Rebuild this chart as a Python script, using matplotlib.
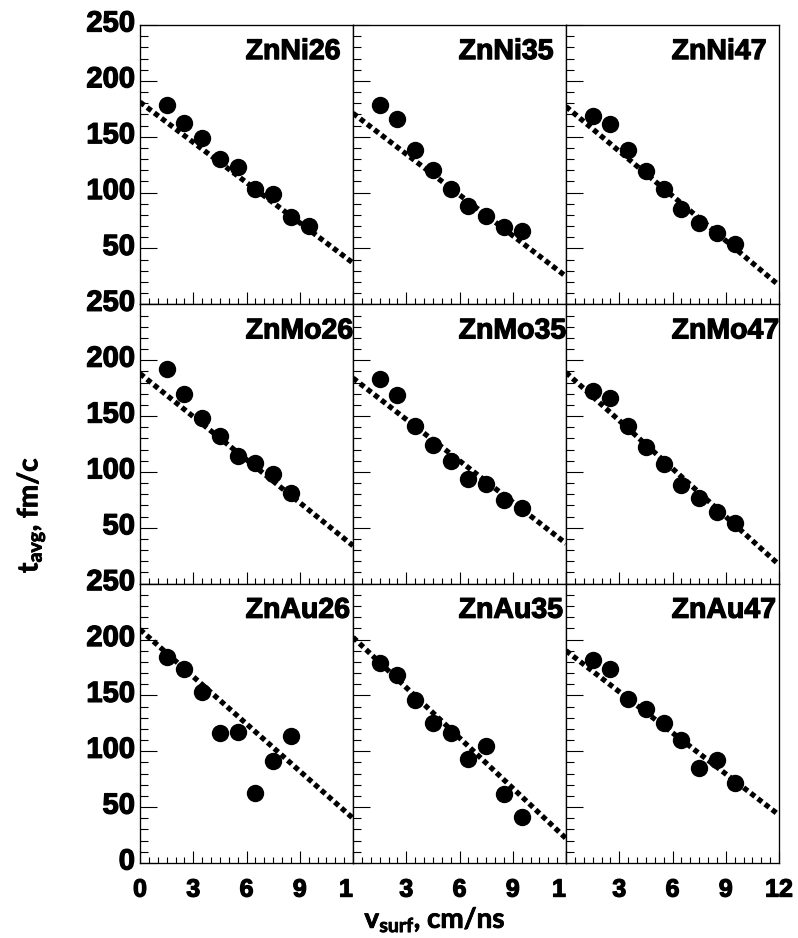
import matplotlib
matplotlib.use('Agg')
import matplotlib.pyplot as plt
import matplotlib.patheffects as pe
from matplotlib.ticker import MultipleLocator
from matplotlib.transforms import ScaledTranslation

# ---------------- data ----------------
v_surf = [1.5, 2.5, 3.5, 4.5, 5.5, 6.5, 7.5, 8.5, 9.5]

panel_names = [["ZnNi26", "ZnNi35", "ZnNi47"],
               ["ZnMo26", "ZnMo35", "ZnMo47"],
               ["ZnAu26", "ZnAu35", "ZnAu47"]]

t_ZnNi26 = [178, 162, 149, 130, 123, 103, 99, 78, 70]
t_ZnNi35 = [178, 166, 138, 120, 103, 88, 79, 69, 66]
t_ZnNi47 = [169, 161, 138, 119, 103, 85, 73, 64, 54]
t_ZnMo26 = [192, 170, 148, 132, 114, 108, 98, 81]
t_ZnMo35 = [183, 169, 141, 124, 110, 94, 89, 75, 68]
t_ZnMo47 = [172, 166, 141, 122, 107, 88, 77, 64, 54]
t_ZnAu26 = [184, 174, 153, 116, 117, 63, 91, 114]
t_ZnAu35 = [179, 168, 146, 125, 116, 93, 105, 62, 41]
t_ZnAu47 = [182, 174, 147, 138, 125, 110, 85, 92, 72]

# linear fits: value at v=0 and at v=12
fit_v = [0, 12]
fit_ZnNi26 = [181, 37]
fit_ZnNi35 = [171, 25]
fit_ZnNi47 = [177, 17]
fit_ZnMo26 = [188, 34]
fit_ZnMo35 = [184, 36]
fit_ZnMo47 = [189, 17]
fit_ZnAu26 = [209, 40]
fit_ZnAu35 = [202, 22]
fit_ZnAu47 = [190, 43]

t_data = {"ZnNi26": t_ZnNi26, "ZnNi35": t_ZnNi35, "ZnNi47": t_ZnNi47,
          "ZnMo26": t_ZnMo26, "ZnMo35": t_ZnMo35, "ZnMo47": t_ZnMo47,
          "ZnAu26": t_ZnAu26, "ZnAu35": t_ZnAu35, "ZnAu47": t_ZnAu47}
fit_data = {"ZnNi26": fit_ZnNi26, "ZnNi35": fit_ZnNi35, "ZnNi47": fit_ZnNi47,
            "ZnMo26": fit_ZnMo26, "ZnMo35": fit_ZnMo35, "ZnMo47": fit_ZnMo47,
            "ZnAu26": fit_ZnAu26, "ZnAu35": fit_ZnAu35, "ZnAu47": fit_ZnAu47}

y_ticks = [0, 50, 100, 150, 200, 250]
x_ticks = [0, 3, 6, 9, 12]
x_ticklabels = [["0", "3", "6", "9", "1"],
                ["", "3", "6", "9", "1"],
                ["", "3", "6", "9", "12"]]

# ---------------- style ----------------
plt.rcParams['font.family'] = ['Liberation Sans', 'DejaVu Sans']
plt.rcParams['font.weight'] = 'bold'
plt.rcParams['mathtext.fontset'] = 'custom'
plt.rcParams['mathtext.rm'] = 'Lato:bold'
plt.rcParams['mathtext.it'] = 'Lato:bold'
plt.rcParams['mathtext.bf'] = 'Lato:bold'
plt.rcParams['mathtext.default'] = 'rm'

heavy = [pe.withStroke(linewidth=0.9, foreground='black')]
heavy_lab = [pe.withStroke(linewidth=0.6, foreground='black')]

fig, axes = plt.subplots(3, 3, figsize=(7.98, 9.38), dpi=100)
fig.subplots_adjust(left=140/798, right=779/798, top=1-25/938, bottom=1-863/938,
                    wspace=0, hspace=0)

for r in range(3):
    for c in range(3):
        ax = axes[r, c]
        name = panel_names[r][c]
        t = t_data[name]
        ax.plot(fit_v, fit_data[name], color='black', lw=3.8,
                dashes=(1.0, 0.7), dash_capstyle='butt', zorder=2)
        ax.plot(v_surf[:len(t)], t, 'o', color='black', markersize=11.5, zorder=3)
        ax.set_xlim(0, 12)
        ax.set_ylim(0, 250)
        ax.text(5.95, 219.5, name, fontsize=20.5, fontweight='bold',
                ha='left', va='baseline', zorder=4, path_effects=heavy)

        for sp in ax.spines.values():
            sp.set_linewidth(0.95)
            sp.set_color('black')

        ax.set_yticks(y_ticks)
        ax.yaxis.set_minor_locator(MultipleLocator(10))
        ax.set_xticks(x_ticks)
        ax.xaxis.set_minor_locator(MultipleLocator(0.5))
        ax.tick_params(axis='y', which='major', direction='in', length=12, width=0.8)
        ax.tick_params(axis='y', which='minor', direction='in', length=5.8, width=0.8)
        ax.tick_params(axis='x', which='major', direction='in', length=8.6, width=0.8)
        ax.tick_params(axis='x', which='minor', direction='in', length=4.3, width=0.8)
        ax.tick_params(axis='y', labelsize=21, pad=3.6)
        ax.tick_params(axis='x', labelsize=18, pad=10.5)

        if c == 0:
            if r == 2:
                ax.set_yticklabels([str(v) for v in y_ticks])
            else:
                ax.set_yticklabels([""] + [str(v) for v in y_ticks[1:]])
            for lab in ax.get_yticklabels():
                lab.set_fontweight('bold')
                lab.set_path_effects(heavy)
                lab.set_transform(lab.get_transform() +
                                  ScaledTranslation(0, 0.045, fig.dpi_scale_trans))
        else:
            ax.tick_params(axis='y', labelleft=False)

        if r == 2:
            ax.set_xticklabels(x_ticklabels[c])
            labs = ax.get_xticklabels()
            for lab in labs:
                lab.set_fontweight('bold')
                lab.set_path_effects(heavy)
            if c < 2:
                labs[-1].set_horizontalalignment('right')
        else:
            ax.tick_params(axis='x', labelbottom=False)

fig.text(435/798, 1-928/938, r"$v_{surf}$, cm/ns", fontsize=20,
         family='Lato', fontweight='bold', ha='center', va='baseline',
         path_effects=heavy_lab)
fig.text(31/798, 1-515/938, r"$t_{avg}$, fm/c", fontsize=20,
         family='Lato', fontweight='bold', ha='center', va='center', rotation=90,
         path_effects=heavy_lab)

fig.savefig('out.png', dpi=100)
